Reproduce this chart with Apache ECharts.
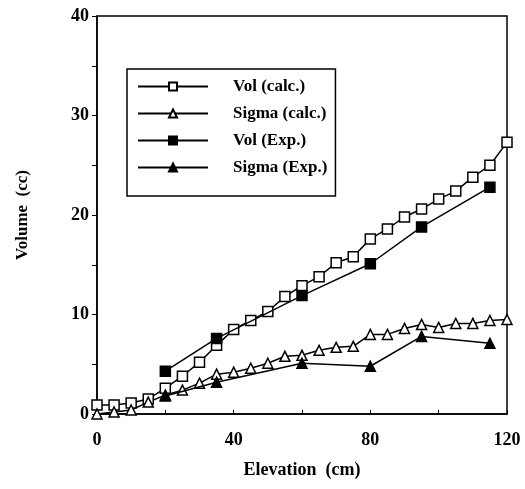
<!DOCTYPE html>
<html>
<head>
<meta charset="utf-8">
<script src="https://cdn.jsdelivr.net/npm/echarts@6/dist/echarts.min.js"></script>
<style>
html,body{margin:0;padding:0;background:#fff;}
#chart{width:525px;height:489px;}
</style>
</head>
<body>
<div id="chart"></div>
<script>
// elevations for calculated curves (cm)
const elevCalc = [0,5,10,15,20,25,30,35,40,45,50,55,60,65,70,75,80,85,90,95,100,105,110,115,120];
const volCalc = [0.9,0.9,1.1,1.5,2.6,3.8,5.2,6.9,8.5,9.4,10.3,11.8,12.9,13.8,15.2,15.8,17.6,18.6,19.8,20.6,21.6,22.4,23.8,25.0,27.3];
const sigmaCalc = [0.0,0.2,0.4,1.2,1.9,2.4,3.1,4.0,4.2,4.6,5.1,5.8,5.9,6.4,6.7,6.8,8.0,8.0,8.6,9.0,8.7,9.1,9.1,9.4,9.5];
// experimental points
const elevExp = [20,35,60,80,95,115];
const volExp = [4.3,7.6,11.9,15.1,18.8,22.8];
const sigmaExp = [1.8,3.2,5.1,4.8,7.8,7.1];

const pair = (xs, ys) => xs.map((x, i) => [x, ys[i]]);
const font = 'Liberation Serif';

const chart = echarts.init(document.getElementById('chart'));

function mkSeries(name, data, symbol, filled, size){
    return {
        name: name,
        type: 'line',
        data: data,
        symbol: symbol,
        symbolSize: size,
        showAllSymbol: true,
        lineStyle: {color: '#000', width: 1.5},
        itemStyle: {color: filled ? '#000' : '#fff', borderColor: '#000', borderWidth: 1.5},
        emphasis: {disabled: true},
        z: filled ? 3 : 2
    };
}

chart.setOption({
    animation: false,
    grid: {left: 97, right: 18, top: 16, bottom: 75, show: true, borderColor: '#000', borderWidth: 1.5},
    legend: {
        orient: 'vertical',
        left: 127, top: 69,
        padding: [9, 8, 20, 10],
        itemGap: 10,
        itemWidth: 70, itemHeight: 10,
        borderColor: '#000', borderWidth: 1.5,
        textStyle: {fontFamily: font, fontWeight: 'bold', fontSize: 17, color: '#000', padding: [0, 0, 0, 20]},
        data: ['Vol (calc.)', 'Sigma (calc.)', 'Vol (Exp.)', 'Sigma (Exp.)']
    },
    xAxis: {
        type: 'value', min: 0, max: 120, interval: 20,
        name: 'Elevation  (cm)', nameLocation: 'middle', nameGap: 47,
        nameTextStyle: {fontFamily: font, fontWeight: 'bold', fontSize: 18, color: '#000'},
        axisLine: {lineStyle: {color: '#000', width: 1.5}},
        axisTick: {inside: true, length: 4, lineStyle: {color: '#000'}},
        axisLabel: {fontFamily: font, fontWeight: 'bold', fontSize: 18, color: '#000', margin: 17,
            formatter: v => (v % 40 === 0 ? v : '')},
        splitLine: {show: false}
    },
    yAxis: {
        type: 'value', min: 0, max: 40, interval: 5,
        name: 'Volume  (cc)', nameLocation: 'middle', nameGap: 66,
        nameTextStyle: {fontFamily: font, fontWeight: 'bold', fontSize: 17, color: '#000'},
        axisLine: {show: true, lineStyle: {color: '#000', width: 1.5}},
        axisTick: {length: 5, lineStyle: {color: '#000'}},
        axisLabel: {fontFamily: font, fontWeight: 'bold', fontSize: 18, color: '#000', margin: 8,
            formatter: v => (v % 10 === 0 ? v : '')},
        splitLine: {show: false}
    },
    series: [
        mkSeries('Vol (calc.)', pair(elevCalc, volCalc), 'rect', false, 10),
        mkSeries('Sigma (calc.)', pair(elevCalc, sigmaCalc), 'triangle', false, 10),
        mkSeries('Vol (Exp.)', pair(elevExp, volExp), 'rect', true, 10),
        mkSeries('Sigma (Exp.)', pair(elevExp, sigmaExp), 'triangle', true, 10)
    ]
});
</script>
</body>
</html>
